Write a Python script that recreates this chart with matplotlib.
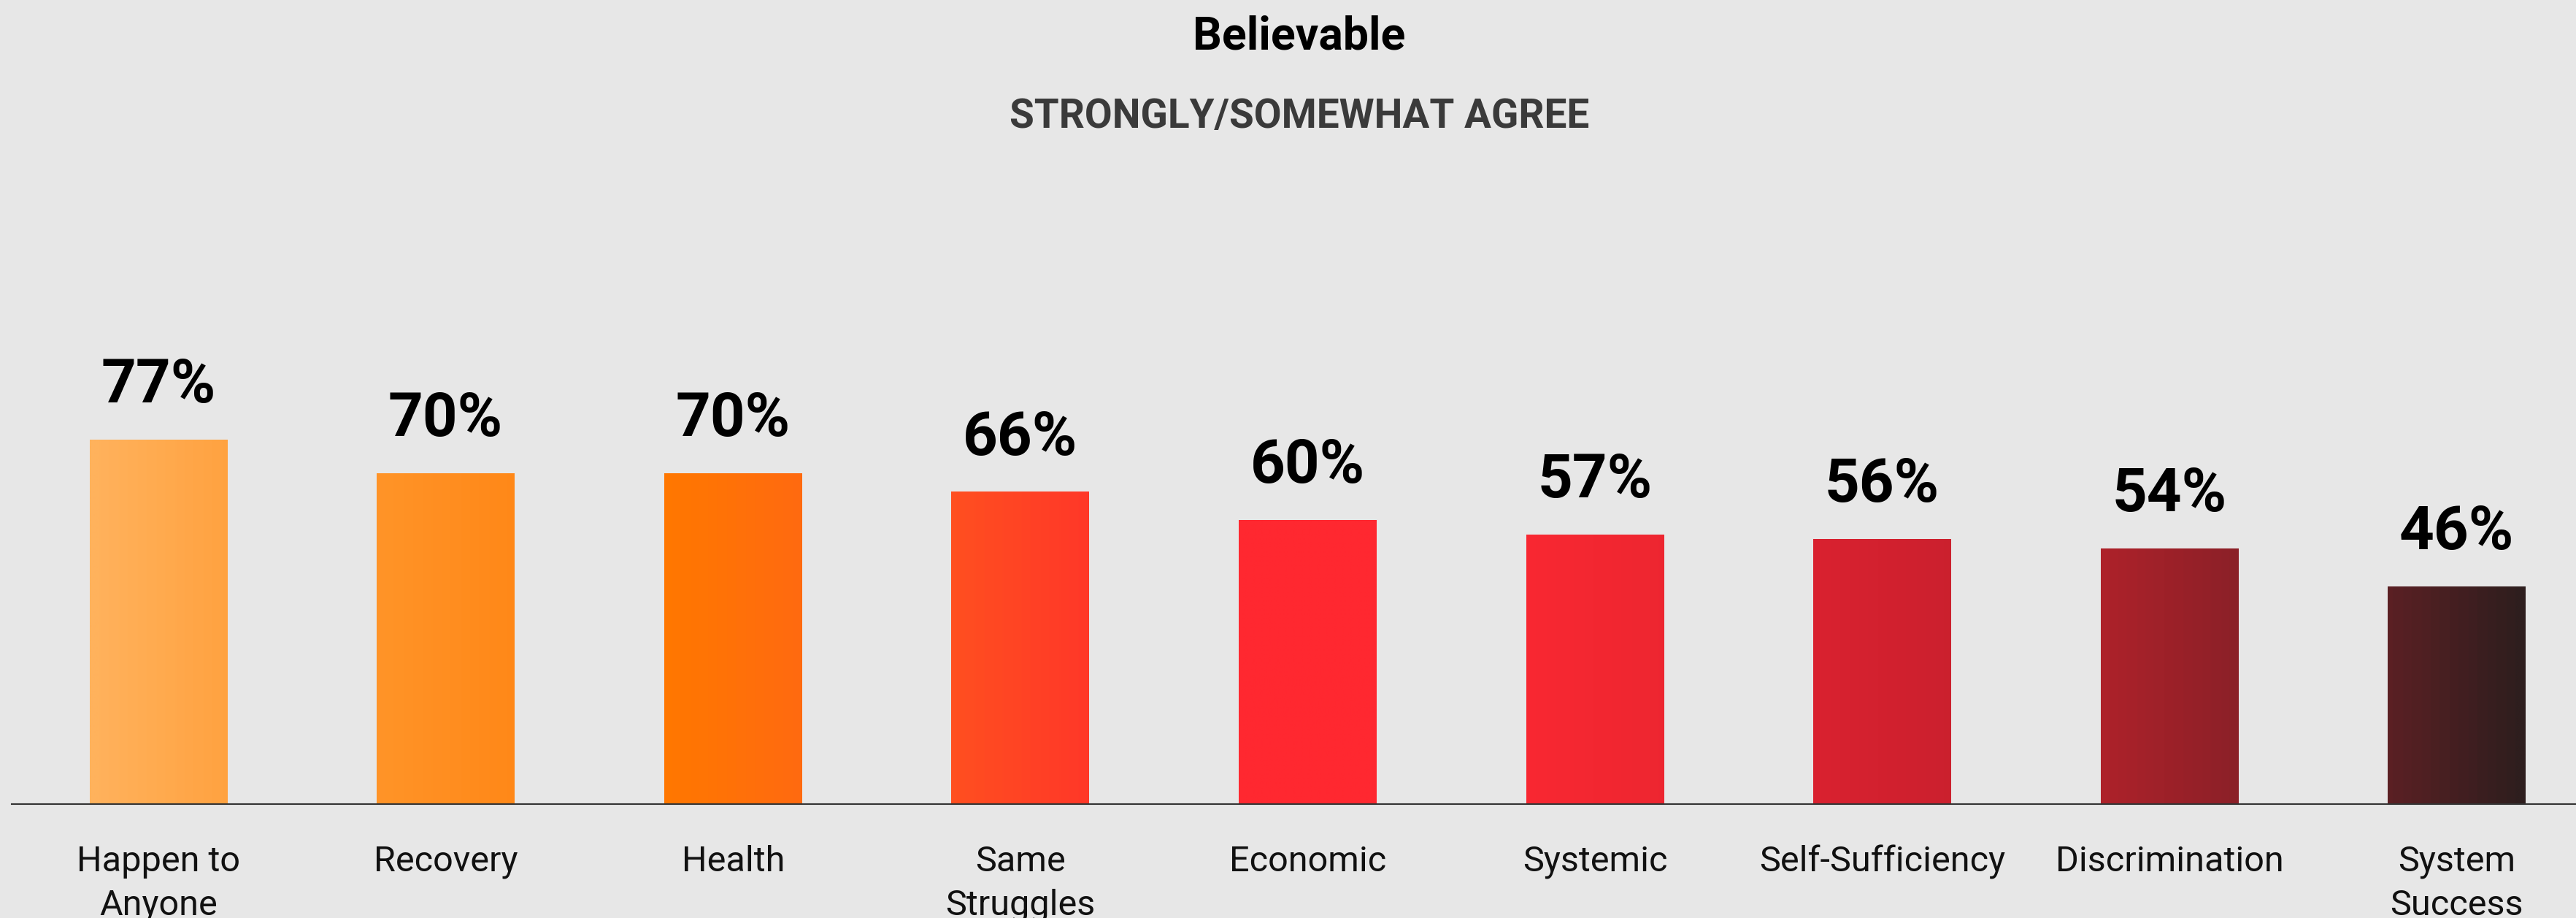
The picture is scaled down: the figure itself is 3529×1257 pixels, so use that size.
import numpy as np
import matplotlib
matplotlib.use("Agg")
from matplotlib import pyplot as plt
from matplotlib.colors import LinearSegmentedColormap

plt.rcParams['font.family'] = ['Roboto', 'DejaVu Sans']

categories = ["Happen to\nAnyone", "Recovery", "Health", "Same\nStruggles", "Economic",
              "Systemic", "Self-Sufficiency", "Discrimination", "System\nSuccess"]
values = [77, 70, 70, 66, 60, 57, 56, 54, 46]

title = "Believable"
subtitle = "STRONGLY/SOMEWHAT AGREE"

# gradient running across the whole row of bars, left to right
gradient_stops = [
    (0.000, "#FFB25C"), (0.056, "#FFA240"),
    (0.117, "#FF9428"), (0.174, "#FF8818"),
    (0.235, "#FF7800"), (0.291, "#FF6A10"),
    (0.352, "#FF5020"), (0.409, "#FF3828"),
    (0.469, "#FF2830"), (0.526, "#FF2830"),
    (0.587, "#F92832"), (0.645, "#EE2630"),
    (0.706, "#DA2230"), (0.763, "#CC202E"),
    (0.823, "#B0222A"), (0.879, "#8E2028"),
    (0.944, "#5C2024"), (1.000, "#2E1E1E"),
]
cmap = LinearSegmentedColormap.from_list("believable", gradient_stops)

bg = "#E7E7E7"
W, H, DPI = 3529, 1257, 100
fig = plt.figure(figsize=(W / DPI, H / DPI), dpi=DPI, facecolor=bg)

ax_left = 16 / W
ax_bottom = (H - 1101) / H
ax_top = (H - 454) / H
ax = fig.add_axes([ax_left, ax_bottom, 1 - ax_left, ax_top - ax_bottom])
ax.set_facecolor(bg)

x = np.arange(len(values))
width = 0.48
span_lo = x[0] - width / 2
span_hi = x[-1] + width / 2

for xi, v in zip(x, values):
    left, right = xi - width / 2, xi + width / 2
    xs = np.linspace(left, right, 80)
    cols = cmap((xs - span_lo) / (span_hi - span_lo))
    ax.imshow(cols[None, :, :], extent=[left, right, 0, v], aspect="auto",
              interpolation="bilinear", zorder=2)
    ax.annotate(f"{v}%", (xi, v), xytext=(0, 37), textcoords="offset points",
                ha="center", va="baseline", fontsize=60, fontweight="bold",
                color="#000000")

ax.set_xlim((16 - 217) / 393.6, (W - 217) / 393.6)
ax.set_ylim(0, 100)

ax.set_xticks(x)
ax.set_xticklabels(categories, fontsize=35, color="#111111", linespacing=1.4)
ax.tick_params(axis="x", length=0, pad=40)
ax.set_yticks([])
for side in ["top", "left", "right"]:
    ax.spines[side].set_visible(False)
ax.spines["bottom"].set_color("#333333")
ax.spines["bottom"].set_linewidth(1.5)
ax.spines["bottom"].set_zorder(3)

cx = 1780 / W
fig.text(cx, 1 - 68 / H, title, ha="center", va="baseline",
         fontsize=45, fontweight="bold", color="#000000")
fig.text(cx, 1 - 175 / H, subtitle, ha="center", va="baseline",
         fontsize=39.5, fontweight="bold", color="#3A3A3A")

fig.savefig("out.png", dpi=DPI, facecolor=bg)
